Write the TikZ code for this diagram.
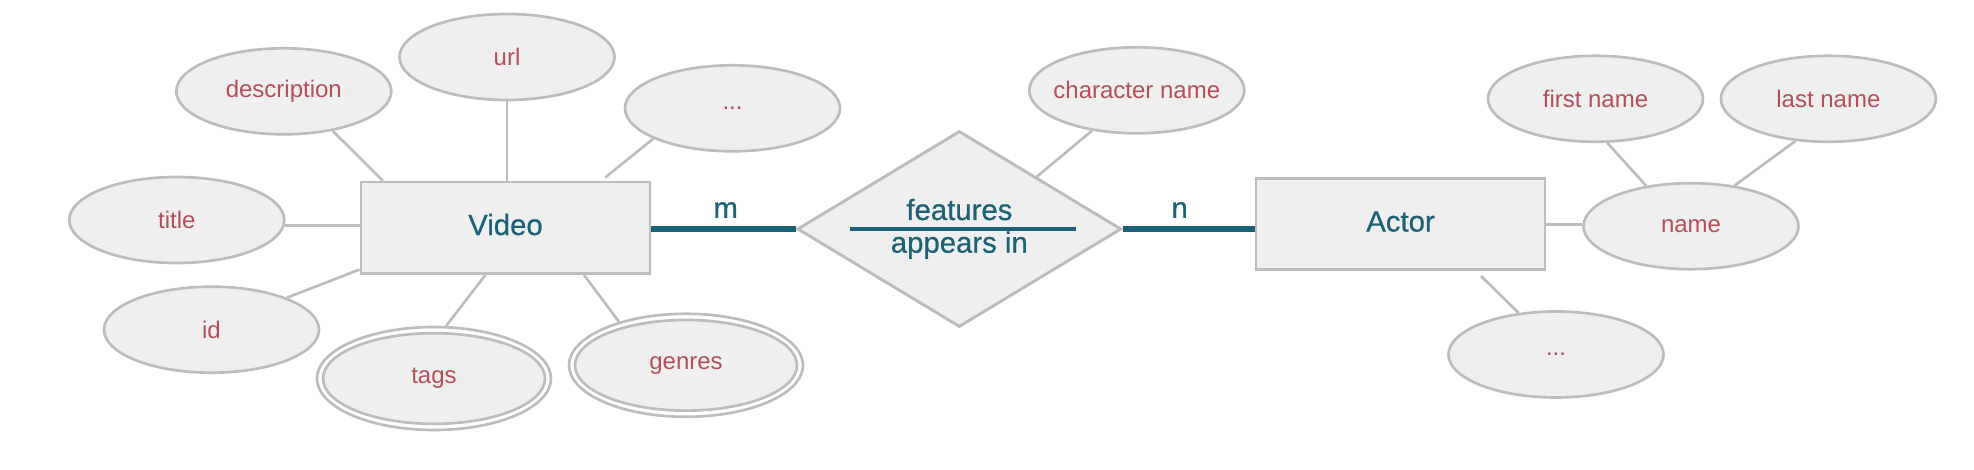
\documentclass[tikz,border=0pt]{standalone}
\usepackage{fontspec}
\setmainfont{Liberation Sans}
\newfontfamily\tealfont[FakeBold=0.6]{Liberation Sans}
\usetikzlibrary{shapes.geometric,calc}
\definecolor{fillg}{HTML}{EFEFEF}
\definecolor{edgeg}{HTML}{BDBDBD}
\definecolor{attrred}{HTML}{B5505A}
\definecolor{tealc}{HTML}{1C6277}
\begin{document}
\begin{tikzpicture}[x=0.75pt,y=-0.75pt,
 attr/.style={ellipse, draw=edgeg, fill=fillg, line width=2pt, minimum width=161.25pt, minimum height=64.5pt, inner sep=0pt, inner xsep=-15pt, text=attrred, font=\fontsize{18}{20}\selectfont},
 mvouter/.style={ellipse, draw=edgeg, fill=white, line width=2pt, minimum width=175.5pt, minimum height=77.25pt, inner sep=0pt},
 mvinner/.style={attr, minimum width=166.5pt, minimum height=68pt},
 entity/.style={rectangle, draw=edgeg, fill=fillg, line width=2.2pt, minimum width=216.75pt, minimum height=68.5pt, inner sep=0pt, text=tealc, font=\tealfont\fontsize{22}{24}\selectfont, text height=16pt, text depth=5pt},
 relship/.style={diamond, draw=edgeg, fill=fillg, line width=2.2pt, minimum width=243pt, minimum height=147pt, inner sep=0pt},
 reltext/.style={text=tealc, font=\tealfont\fontsize{22}{24}\selectfont, anchor=base, inner sep=0pt},
 conn/.style={draw=edgeg, line width=2pt},
 card/.style={draw=tealc, line width=4.3pt},
 cardlbl/.style={text=tealc, font=\tealfont\fontsize{22}{24}\selectfont, inner sep=0pt},
]
\useasboundingbox (0,0) rectangle (1974,470);

% entities and relationship
\node[entity] (video) at (505.5,227.7) {Video};
\node[entity] (actor) at (1400.5,224.2) {Actor};
\node[relship] (dia) at (959.3,229) {};
\node[reltext] (feat) at (959.4,220) {features};
\node[reltext] (appr) at (959.3,252.7) {appears in};
\coordinate (fl) at (850.2,229.3);
\coordinate (fr) at (1075.9,229.3);
\draw[tealc, line width=3pt] (fl) -- (fr);

% Video attributes
\node[attr] (title) at (176.8,220) {title};
\node[attr] (desc) at (283.8,91.3) {description};
\node[attr] (url) at (507,57) {url};
\node[attr] (dots1) at (732.5,108.3) {...};
\node[attr] (id) at (211.5,329.7) {id};
\node[mvouter] (tagsO) at (434,378.5) {};
\node[mvinner] (tags) at (434,378.5) {tags};
\node[mvouter] (genresO) at (686,365.3) {};
\node[mvinner] (genres) at (686,365.3) {genres};

% relationship / Actor attributes
\node[attr] (charname) at (1136.8,90.3) {character name};
\node[attr] (fname) at (1595.5,98.8) {first name};
\node[attr] (lname) at (1828.4,98.8) {last name};
\node[attr] (name) at (1691,226.2) {name};
\node[attr] (dots2) at (1556,354.5) {...};

% connectors
\draw[conn] (title.-3) -- (title.-3 -| video.west);
\draw[conn] (desc.-39) -- (video.159.9);
\draw[conn] (url.south) -- (url.south |- video.north);
\coordinate (d1end) at (605.4,177.3);
\draw[conn] (dots1.201) -- (d1end);
\draw[conn] (id.23.3) -- (video.196.5);
\draw[conn] (tagsO.77) -- (video.247.1);
\draw[conn] (genresO.147.7) -- (video.-31.9);
\draw[conn] (charname.222) -- (dia.34.7);
\draw[conn] (actor.east) -- (actor.east -| name.west);
\draw[conn] (fname.-75.6) -- (name.138.4);
\draw[conn] (lname.232.7) -- (name.43.4);
\coordinate (d2start) at (1481,276);
\draw[conn] (d2start) -- (dots2.132);

% cardinality links
\draw[card] (video.east |- dia.west) -- (dia.west);
\draw[card] (dia.east) -- (dia.east -| actor.west);
\node[cardlbl] (mlabel) at (725.7,210) {m};
\node[cardlbl] (nlabel) at (1179.6,210) {n};
\end{tikzpicture}
\end{document}
